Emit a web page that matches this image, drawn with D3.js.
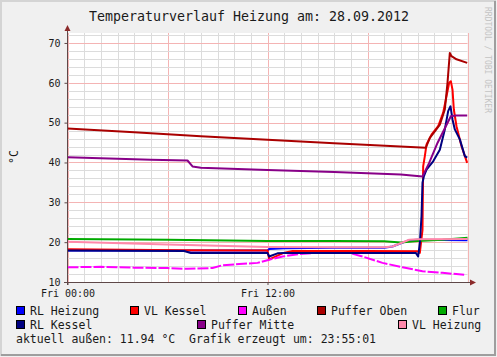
<!DOCTYPE html>
<html>
<head>
<meta charset="utf-8">
<script src="https://cdn.jsdelivr.net/npm/d3@7"></script>
<style>
  body { margin: 0; background: #f0f0f0; }
  svg text { font-family: "DejaVu Sans Mono", monospace; fill: #1a1a1a; }
</style>
</head>
<body>
<div id="chart"></div>
<script>
// hours since Fri 00:00 / value in °C
var rlHeizung   = [[0,17.9],[6,17.9],[12,17.9],[12.1,18.3],[13,18.5],[16,18.6],[19,18.6],[19.5,18.9],[20.5,20.5],[21,20.6],[24,20.5]];
var vlKessel    = [[0,18.2],[7,18.0],[12,17.9],[12.1,15.7],[12.9,17.2],[13.5,17.8],[18,17.8],[21.0,17.7],[21.14,17.3],[21.3,23.1],[21.34,39.0],[21.44,41.6],[21.54,44.5],[21.84,47.0],[22.24,49.1],[22.54,52.5],[22.74,56.6],[22.9,60.0],[23.0,60.4],[23.1,58.3],[23.18,53.3],[23.34,49.1],[23.64,44.1],[23.98,39.9]];
var aussen      = [[0,13.7],[2,13.8],[4,13.6],[6,13.5],[7.2,13.3],[8.7,13.5],[9.3,14.2],[10.3,14.5],[11.4,14.8],[12.1,15.6],[12.9,16.4],[13.9,17.0],[14.9,17.3],[16.9,17.3],[17.7,16.4],[18.9,14.8],[20.1,13.7],[21.3,12.7],[22.5,12.3],[23.8,11.8]];
var pufferOben  = [[0,48.5],[4,47.6],[8,46.6],[12,45.7],[16,44.8],[21.5,43.7],[21.74,46.2],[22.04,47.8],[22.34,49.5],[22.64,53.3],[22.8,60.0],[22.94,67.5],[23.04,66.7],[23.34,65.9],[23.98,65.0]];
var flur        = [[0,20.8],[6,20.6],[12,20.3],[16,20.3],[19,20.2],[20,19.9],[21,20.3],[22.5,20.6],[24,21.1]];
var rlKessel    = [[0,17.9],[7,17.8],[7.4,17.3],[12,17.3],[12.1,16.4],[12.6,17.2],[13,17.3],[20.9,17.3],[21.04,16.4],[21.14,19.8],[21.24,26.5],[21.3,34.9],[21.38,36.5],[21.54,38.2],[21.94,40.3],[22.34,43.2],[22.64,48.3],[22.84,52.9],[22.98,54.1],[23.1,50.8],[23.24,48.3],[23.54,45.8],[23.84,41.6],[23.98,41.2]];
var pufferMitte = [[0,41.3],[5,40.7],[7.2,40.5],[7.5,39.0],[8,38.7],[12,38.1],[16,37.6],[20,37.0],[21.3,36.5],[21.7,39.9],[22.2,44.9],[22.7,49.1],[23.0,51.6],[23.3,51.8],[23.98,51.8]];
var vlHeizung   = [[0,20.1],[6,19.4],[12,18.8],[16,18.7],[19,18.7],[19.5,18.9],[20.5,20.6],[21,20.7],[24,20.8]];

var seriesNames  = ["RL Heizung","VL Kessel","Außen","Puffer Oben","Flur","RL Kessel","Puffer Mitte","VL Heizung"];
var seriesData   = [rlHeizung, vlKessel, aussen, pufferOben, flur, rlKessel, pufferMitte, vlHeizung];
var seriesColors = ["#0000ff","#ff0000","#ff00ff","#aa0000","#00aa00","#000080","#880088","#ff88aa"];

var xTickValues = [0, 12];
var xTickLabels = ["Fri 00:00", "Fri 12:00"];
var yTickValues = [10, 20, 30, 40, 50, 60, 70];

var width = 497, height = 357;

var svg = d3.select("#chart").append("svg")
  .attr("width", width)
  .attr("height", height);

// frame
svg.append("rect").attr("x",0).attr("y",0).attr("width",width).attr("height",height).attr("fill","#f0f0f0");
svg.append("path").attr("d","M1,356V1H496").attr("fill","none").attr("stroke","#d4d4d4").attr("stroke-width",2);
svg.append("path").attr("d","M1,355H495V1").attr("fill","none").attr("stroke","#9e9e9e").attr("stroke-width",2);

var xScale = d3.scaleLinear().domain([0, 24]).range([67.5, 467.5]);
var yScale = d3.scaleLinear().domain([10, 72.5]).range([282, 33]);

var plot = svg.append("g");
plot.append("rect")
  .attr("x", xScale(0)).attr("y", yScale(72.5))
  .attr("width", xScale(24) - xScale(0)).attr("height", yScale(10) - yScale(72.5))
  .attr("fill", "#ffffff");

// grid - minor and major
var minorX = d3.range(0, 25, 1), minorY = d3.range(10, 73, 2);
plot.selectAll(".gx").data(minorX).enter().append("line")
  .attr("x1", function(d){ return Math.round(xScale(d)) + 0.5; })
  .attr("x2", function(d){ return Math.round(xScale(d)) + 0.5; })
  .attr("y1", yScale(72.5)).attr("y2", yScale(10))
  .attr("stroke", function(d){ return d % 6 == 0 ? "#f4b4b4" : "#dcdcdc"; });
plot.selectAll(".gy").data(minorY).enter().append("line")
  .attr("x1", xScale(0)).attr("x2", xScale(24))
  .attr("y1", function(d){ return Math.round(yScale(d)) + 0.5; })
  .attr("y2", function(d){ return Math.round(yScale(d)) + 0.5; })
  .attr("stroke", function(d){ return d % 10 == 0 ? "#f4b4b4" : "#dcdcdc"; });

// lines
var line = d3.line()
  .x(function(d){ return xScale(d[0]); })
  .y(function(d){ return yScale(d[1]); });

seriesData.forEach(function(s, i) {
  plot.append("path")
    .datum(s)
    .attr("fill", "none")
    .attr("stroke", seriesColors[i])
    .attr("stroke-width", 2)
    .attr("stroke-linejoin", "round")
    .attr("stroke-dasharray", seriesNames[i] == "Außen" ? "11,2" : null)
    .attr("d", line);
});

// axes
var axisColor = "#5e4848", arrowColor = "#8b2a2a";
var yAxis = d3.axisLeft(yScale).tickValues(yTickValues).tickSize(3).tickPadding(4);
var yg = svg.append("g").attr("transform", "translate(67.5,0)").call(yAxis);
yg.select(".domain").remove();
yg.selectAll("line").attr("stroke", axisColor);
yg.selectAll("text").style("font-size", "10px");

var xAxis = d3.axisBottom(xScale).tickValues(xTickValues).tickSize(3).tickPadding(5)
  .tickFormat(function(d, i){ return xTickLabels[i]; });
var xg = svg.append("g").attr("transform", "translate(0,282)").call(xAxis);
xg.select(".domain").remove();
xg.selectAll("line").attr("stroke", axisColor);
xg.selectAll("text").style("font-size", "10px");

svg.append("line").attr("x1", 67.5).attr("x2", 67.5).attr("y1", 285).attr("y2", 30)
  .attr("stroke", axisColor);
svg.append("line").attr("x1", 64).attr("x2", 471).attr("y1", 282.5).attr("y2", 282.5)
  .attr("stroke", axisColor);
svg.append("path").attr("d", "M64.5,31L67.5,25L70.5,31Z").attr("fill", arrowColor);
svg.append("path").attr("d", "M470,279.5L476,282.5L470,285.5Z").attr("fill", arrowColor);

// title, unit, watermark
svg.append("text").attr("x", 249).attr("y", 21).attr("text-anchor", "middle")
  .style("font-size", "13.3px").text("Temperaturverlauf Heizung am: 28.09.2012");
svg.append("text").attr("transform", "translate(14,157)rotate(-90)")
  .attr("text-anchor", "middle").attr("dominant-baseline", "central")
  .style("font-size", "11.5px").text("°C");
svg.append("text").attr("transform", "translate(485,7)rotate(90)")
  .style("font-size", "8px").style("fill", "#c4c4c4")
  .text("RRDTOOL / TOBI OETIKER");

// legend
var legendPos = [[16,311],[130,311],[238,311],[317,311],[438,311],[16,325],[197,325],[398,325]];
seriesNames.forEach(function(name, i) {
  var p = legendPos[i];
  svg.append("rect").attr("x", p[0] + 0.5).attr("y", p[1] - 4.5).attr("width", 8).attr("height", 8)
    .attr("fill", seriesColors[i]).attr("stroke", "#000");
  svg.append("text").attr("x", p[0] + 14).attr("y", p[1] + 4)
    .style("font-size", "11.5px").text(name);
});

svg.append("text").attr("x", 16).attr("y", 343)
  .attr("xml:space", "preserve").style("white-space", "pre")
  .style("font-size", "11.5px")
  .text("aktuell außen: 11.94 °C  Grafik erzeugt um: 23:55:01");
</script>
</body>
</html>
